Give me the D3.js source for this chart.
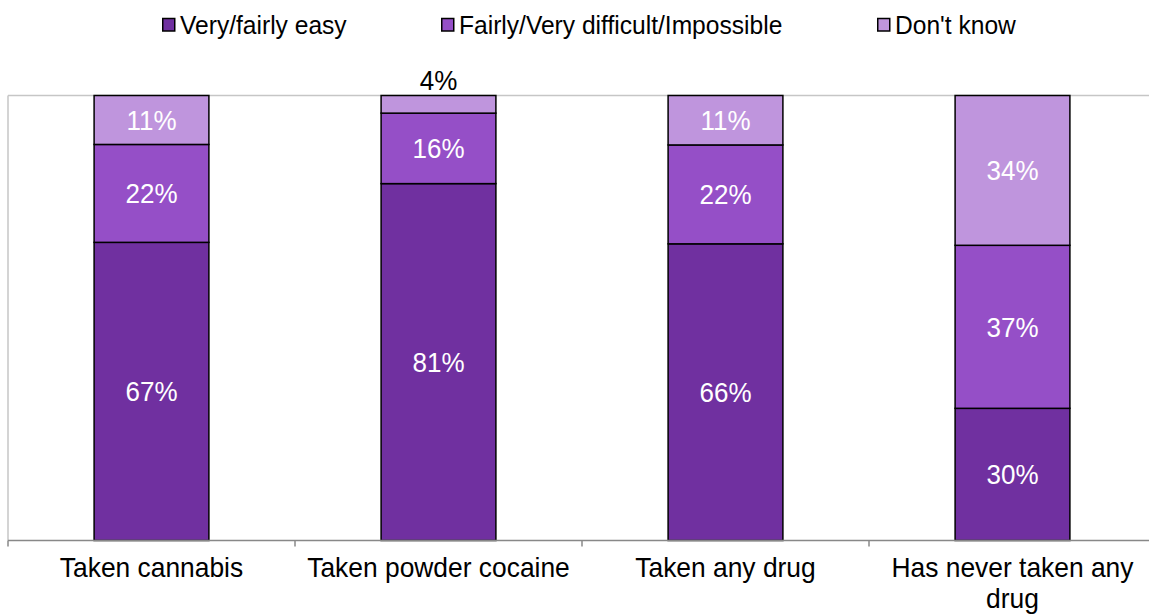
<!DOCTYPE html>
<html>
<head>
<meta charset="utf-8">
<script src="https://cdn.jsdelivr.net/npm/d3@7"></script>
<style>
  html, body { margin: 0; padding: 0; background: #fff; }
  svg { display: block; font-family: "Liberation Sans", Arial, sans-serif; }
</style>
</head>
<body>
<svg id="chart" width="1149" height="614"></svg>
<script>
// Ease of obtaining drugs, by drug-taking experience (shares per group)
const categories = ["Taken cannabis", "Taken powder cocaine", "Taken any drug", "Has never taken any drug"];
const seriesNames = ["Very/fairly easy", "Fairly/Very difficult/Impossible", "Don't know"];
const easy      = [67, 81, 66, 30];
const difficult = [22, 16, 22, 37];
const dontKnow  = [11, 4, 11, 34];
const seriesColors = ["#7030A0", "#954FC7", "#BF95DD"];

const rows = categories.map((c, i) => ({
  category: c,
  [seriesNames[0]]: easy[i],
  [seriesNames[1]]: difficult[i],
  [seriesNames[2]]: dontKnow[i]
}));

const svg = d3.select("#chart");
const plot = { left: 8, right: 1156, top: 95.5, bottom: 540.5 };
const TALL = 1.06; // glyphs are drawn slightly taller than wide

const x = d3.scaleBand()
  .domain(categories)
  .range([plot.left, plot.right])
  .paddingInner(0.6)
  .paddingOuter(0.3);

const y = d3.scaleLinear().domain([0, 1]).range([plot.bottom, plot.top]);

const color = d3.scaleOrdinal().domain(seriesNames).range(seriesColors);

// 100% stacked layout
const stacked = d3.stack().keys(seriesNames).offset(d3.stackOffsetExpand)(rows);

// plot area frame (left and top edges)
svg.append("line")
  .attr("x1", plot.left).attr("x2", plot.left)
  .attr("y1", plot.top).attr("y2", plot.bottom)
  .attr("stroke", "#c6c6c6").attr("stroke-width", 1.5);
svg.append("line")
  .attr("x1", plot.left).attr("x2", 1149)
  .attr("y1", plot.top).attr("y2", plot.top)
  .attr("stroke", "#c6c6c6").attr("stroke-width", 1.5);

// bars
const layer = svg.append("g").selectAll("g")
  .data(stacked)
  .join("g")
  .attr("fill", d => color(d.key));

layer.selectAll("rect")
  .data(d => d.map(p => ({ p, key: d.key })))
  .join("rect")
  .attr("x", d => x(d.p.data.category))
  .attr("width", x.bandwidth())
  .attr("y", d => y(d.p[1]))
  .attr("height", d => y(d.p[0]) - y(d.p[1]))
  .attr("stroke", "#000")
  .attr("stroke-width", 1.5);

// value labels: inside the segment, or above the bar when the segment is too thin
const labels = [];
stacked.forEach(s => s.forEach(p => labels.push({ p, key: s.key, value: p.data[s.key] })));
const segH = d => y(d.p[0]) - y(d.p[1]);
svg.append("g").selectAll("text")
  .data(labels)
  .join("text")
  .attr("transform", d => {
    const cx = x(d.p.data.category) + x.bandwidth() / 2;
    const cy = segH(d) < 30 ? y(d.p[1]) - 5.5 : (y(d.p[0]) + y(d.p[1])) / 2 + 10;
    return `translate(${cx},${cy}) scale(1,${TALL})`;
  })
  .attr("text-anchor", "middle")
  .attr("font-size", 26)
  .attr("fill", d => segH(d) < 30 ? "#000" : "#fff")
  .text(d => d.value + "%");

// category axis
const axis = svg.append("g").attr("transform", `translate(0,${plot.bottom})`);
axis.append("line")
  .attr("x1", plot.left).attr("x2", 1149)
  .attr("stroke", "#888").attr("stroke-width", 1.5);
const step = x.step();
const tickXs = d3.range(categories.length + 1).map(i => plot.left + i * step);
axis.selectAll("line.tick")
  .data(tickXs)
  .join("line")
  .attr("class", "tick")
  .attr("x1", d => d).attr("x2", d => d)
  .attr("y1", 0).attr("y2", 6)
  .attr("stroke", "#888").attr("stroke-width", 1.5);

// category labels, wrapped to the category width (one text per line)
const labelLines = {
  "Has never taken any drug": ["Has never taken any", "drug"]
};
const catLines = [];
categories.forEach(c => (labelLines[c] || [c]).forEach((line, i) => catLines.push({ c, line, i })));
svg.append("g").selectAll("text")
  .data(catLines)
  .join("text")
  .attr("transform", d => `translate(${x(d.c) + x.bandwidth() / 2},${577 + d.i * 30.5}) scale(1,${TALL})`)
  .attr("text-anchor", "middle")
  .attr("font-size", 26.4)
  .attr("fill", "#000")
  .text(d => d.line);

// legend
const legendX = [162, 441, 877];
const legend = svg.append("g").selectAll("g")
  .data(seriesNames)
  .join("g")
  .attr("transform", (d, i) => `translate(${legendX[i]},0)`);
legend.append("rect")
  .attr("x", 0.75).attr("y", 18.5)
  .attr("width", 12).attr("height", 12.5)
  .attr("fill", d => color(d))
  .attr("stroke", "#000").attr("stroke-width", 1.5);
legend.append("text")
  .attr("transform", `translate(18,34) scale(1,${TALL})`)
  .attr("font-size", 24.6)
  .attr("fill", "#000")
  .text(d => d);
</script>
</body>
</html>
